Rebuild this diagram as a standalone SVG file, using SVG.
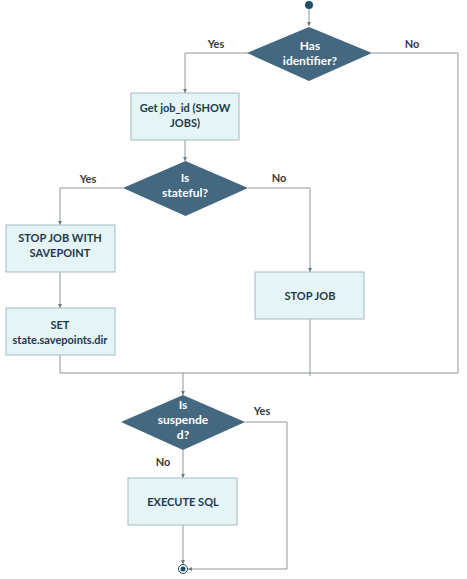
<svg xmlns="http://www.w3.org/2000/svg" width="467" height="579" viewBox="0 0 467 579">
<style>
.box{fill:#e5f4f4;stroke:#a3bcc3;stroke-width:1}
.dia{fill:#44687f}
.bt{font-family:Lato,"Liberation Sans",sans-serif;font-weight:bold;font-size:11px;fill:#1f3a4e;text-anchor:middle}
.dt{font-family:Lato,"Liberation Sans",sans-serif;font-weight:bold;font-size:12px;fill:#ffffff;text-anchor:middle}
.lb{font-family:Lato,"Liberation Sans",sans-serif;font-weight:bold;font-size:11px;fill:#3a3a3a;text-anchor:middle}
.ln{fill:none;stroke:#8c969b;stroke-width:1}
</style>
<defs>
<marker id="ah" viewBox="0 0 6 6" refX="6" refY="3" markerWidth="4" markerHeight="4" orient="auto">
<path d="M0,0 L6,3 L0,6 z" fill="#6d7a80"/>
</marker>
</defs>
<rect width="467" height="579" fill="#ffffff"/>
<g id="connectors">
<path class="ln" d="M309,9 V26" marker-end="url(#ah)"/>
<path class="ln" d="M248,53 H185 V93" marker-end="url(#ah)"/>
<path class="ln" d="M372,53 H458 V373 H60 V355"/>
<path class="ln" d="M185,140 V161" marker-end="url(#ah)"/>
<path class="ln" d="M123,188 H60 V225" marker-end="url(#ah)"/>
<path class="ln" d="M60,272 V308" marker-end="url(#ah)"/>
<path class="ln" d="M248,188 H310 V272" marker-end="url(#ah)"/>
<path class="ln" d="M310,319 V376"/>
<path class="ln" d="M183,373 V395" marker-end="url(#ah)"/>
<path class="ln" d="M245,422 H287 V569 H188" marker-end="url(#ah)"/>
<path class="ln" d="M183,450 V478" marker-end="url(#ah)"/>
<path class="ln" d="M183,525 V564" marker-end="url(#ah)"/>
<text class="lb" x="216" y="48">Yes</text>
<text class="lb" x="412" y="48">No</text>
<text class="lb" x="88" y="183">Yes</text>
<text class="lb" x="279" y="182">No</text>
<text class="lb" x="262" y="415">Yes</text>
<text class="lb" x="163" y="466">No</text>
</g>
<g id="start"><circle cx="309" cy="5" r="4" fill="#1f4e68"/></g>
<g id="has-identifier">
<polygon class="dia" points="309,27 372,53 309,81 247,53"/>
<text class="dt" x="310" y="50">Has</text>
<text class="dt" x="310" y="65">identifier?</text>
</g>
<g id="get-job-id">
<rect class="box" x="131" y="93" width="108" height="47"/>
<text class="bt" x="185" y="112">Get job_id (SHOW</text>
<text class="bt" x="185" y="127">JOBS)</text>
</g>
<g id="is-stateful">
<polygon class="dia" points="185.5,161 248,188 185.5,216 123,188"/>
<text class="dt" x="185" y="182">Is</text>
<text class="dt" x="185" y="197">stateful?</text>
</g>
<g id="stop-with-savepoint">
<rect class="box" x="6" y="225" width="109" height="47"/>
<text class="bt" x="60" y="242">STOP JOB WITH</text>
<text class="bt" x="60" y="257">SAVEPOINT</text>
</g>
<g id="set-dir">
<rect class="box" x="6" y="308" width="109" height="47"/>
<text class="bt" x="60" y="329">SET</text>
<text class="bt" x="60" y="344">state.savepoints.dir</text>
</g>
<g id="stop-job">
<rect class="box" x="255" y="272" width="109" height="47"/>
<text class="bt" x="310" y="300">STOP JOB</text>
</g>
<g id="is-suspended">
<polygon class="dia" points="183,395 245,422 183,450 121,422"/>
<text class="dt" x="183" y="409">Is</text>
<text class="dt" x="183" y="424">suspende</text>
<text class="dt" x="183" y="439">d?</text>
</g>
<g id="execute-sql">
<rect class="box" x="128" y="478" width="109" height="47"/>
<text class="bt" x="183" y="506">EXECUTE SQL</text>
</g>
<g id="end">
<circle cx="183" cy="569" r="4.5" fill="#ffffff" stroke="#1f4e68" stroke-width="1"/>
<circle cx="183" cy="569" r="2.5" fill="#1f4e68"/>
</g>
</svg>
